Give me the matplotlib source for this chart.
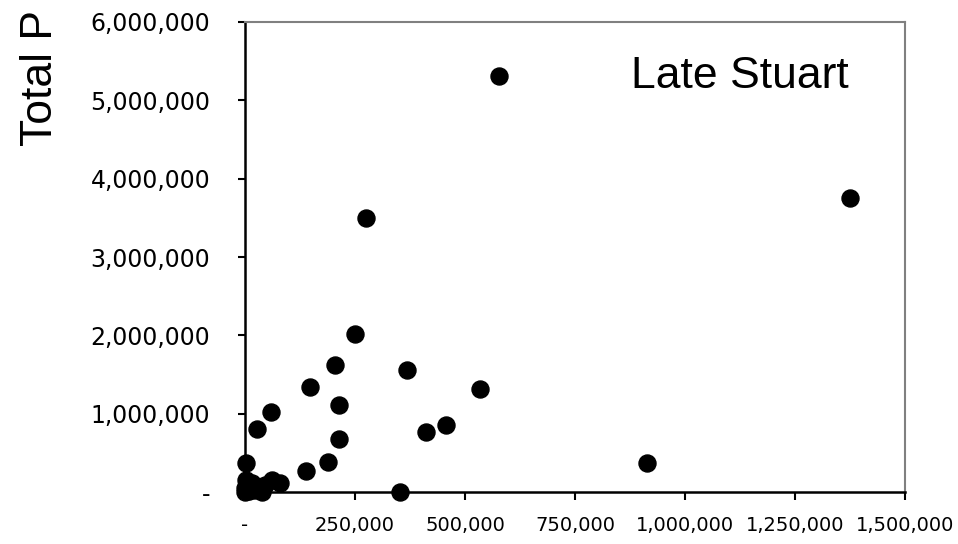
import matplotlib
matplotlib.use('Agg')
import matplotlib.pyplot as plt

# values
x_vals = [578000, 1375000, 275000, 250000, 205000, 148000, 59000, 214000,
          369000, 533000, 457000, 412000, 214000, 27000, 189000, 139000,
          353000, 913000, 3000,
          2000, 11000, 61000, 80000, 0, 23000, 39000, 0, 45000, 15000, 8000]
y_vals = [5310000, 3750000, 3500000, 2020000, 1620000, 1340000, 1020000, 1110000,
          1560000, 1310000, 855000, 766000, 677000, 804000, 383000, 268000,
          0, 370000, 370000,
          153000, 64000, 153000, 115000, 50000, 25000, 0, 0, 90000, 110000, 10000]

x_ticks = [0, 250000, 500000, 750000, 1000000, 1250000, 1500000]
x_labels = ['-', '250,000', '500,000', '750,000', '1,000,000', '1,250,000', '1,500,000']
y_ticks = [0, 1000000, 2000000, 3000000, 4000000, 5000000, 6000000]
y_labels = ['-', '1,000,000', '2,000,000', '3,000,000', '4,000,000', '5,000,000', '6,000,000']

period = 'Late Stuart'
y_title = 'Total P'

fig = plt.figure(figsize=(9.58, 5.44), dpi=100)
ax = fig.add_axes([245/958, 52/544, 660/958, 470/544])

ax.scatter(x_vals, y_vals, s=150, color='black', clip_on=False, zorder=3)

ax.set_xlim(0, 1500000)
ax.set_ylim(0, 6000000)
ax.set_xticks(x_ticks)
ax.set_xticklabels(x_labels, fontsize=14, family='DejaVu Sans')
ax.set_yticks(y_ticks)
ax.set_yticklabels(y_labels, fontsize=17, family='DejaVu Sans')
ax.tick_params(axis='x', direction='out', length=6, width=1.5, pad=11)
ax.tick_params(axis='y', direction='out', length=5, width=1.5, pad=20)

for side in ['left', 'bottom']:
    ax.spines[side].set_color('black')
    ax.spines[side].set_linewidth(1.8)
for side in ['top', 'right']:
    ax.spines[side].set_color('#808080')
    ax.spines[side].set_linewidth(1.5)

ax.text(0.585, 0.86, period, transform=ax.transAxes, fontsize=32,
        family='Liberation Sans', ha='left', va='baseline')

# axis title sits in the top left corner, reading upwards
fig.text(52/958, 1 - 146/544, y_title, rotation=90, rotation_mode='anchor',
         ha='left', va='baseline', fontsize=32, family='Liberation Sans')

fig.savefig('out.png', dpi=100)
